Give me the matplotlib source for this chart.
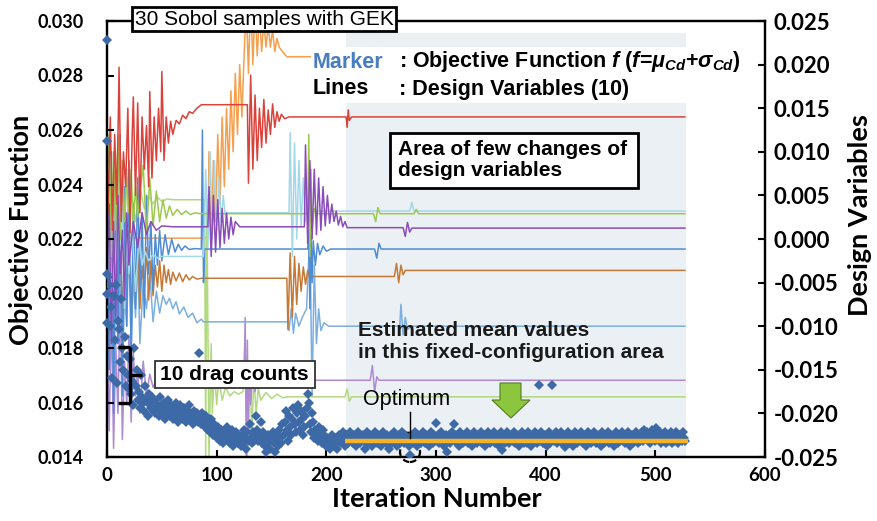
import numpy as np
import matplotlib.pyplot as plt
from matplotlib.patches import Rectangle, Polygon, Circle
from matplotlib.lines import Line2D

plt.rcParams["font.family"] = ["Lato", "DejaVu Sans"]
plt.rcParams["axes.unicode_minus"] = False
plt.rcParams["mathtext.fontset"] = "custom"
plt.rcParams["mathtext.rm"] = "Liberation Sans:bold"
plt.rcParams["mathtext.it"] = "Liberation Sans:italic:bold"
plt.rcParams["mathtext.bf"] = "Liberation Sans:bold"

# ---- objective function (drag counts, 1 count = 0.0001) ----
sobol_f = [293, 256, 207, 200, 189]
iter_f = [
    206, 203, 188, 195, 169, 199, 183, 203, 167, 190,
    187, 175, 198, 180, 172, 184, 166, 177, 170, 165,
    176, 163, 168, 159, 180, 166, 172, 161, 164, 158,
    170, 162, 160, 157, 166, 161, 155, 163, 159, 158,
    162, 157, 161, 156, 160, 158, 155, 162, 157, 159,
    156, 160, 154, 158, 157, 161, 155, 159, 156, 154,
    158, 155, 160, 156, 153, 157, 159, 155, 154, 158,
    156, 153, 157, 155, 159, 154, 156, 152, 157, 155,
    154, 156, 153, 178, 155, 152, 156, 154, 151, 155,
    153, 150, 152, 149, 154, 151, 148, 152, 150, 147,
    151, 149, 146, 150, 148, 145, 149, 147, 151, 146,
    148, 145, 147, 150, 144, 148, 146, 149, 145, 147,
    146, 144, 148, 145, 150, 147, 143, 149, 146, 152,
    147, 145, 149, 146, 148, 155, 150, 146, 148, 153,
    145, 149, 147, 144, 142, 146, 148, 145, 143, 147,
    149, 145, 142, 146, 148, 144, 150, 147, 145, 152,
    148, 153, 157, 150, 146, 155, 151, 148, 154, 158,
    152, 149, 156, 159, 153, 150, 157, 154, 148, 151,
    155, 158, 163, 160, 152, 149, 156, 153, 147, 150,
    148, 146, 151, 149, 147, 145, 150, 148, 146, 144,
    147, 145, 143, 146, 148, 144, 146, 145, 147, 143,
    146, 148, 145, 147, 149, 146, 144, 147, 148, 145, 146, 149, 147, 145, 148, 146, 144, 147, 149, 146,
    145, 147, 148, 146, 143, 147, 149, 145, 146, 148, 147, 144, 146, 149, 147, 145, 148, 146, 147, 144,
    147, 149, 146, 145, 148, 147, 143, 146, 148, 145, 147, 149, 146, 144, 147, 148, 145, 146, 149, 147,
    145, 148, 146, 147, 144, 140.8, 146, 148, 145, 147, 149, 146, 144, 148, 147, 145, 146, 149, 147, 145,
    148, 146, 147, 144, 149, 146, 145, 148, 147, 152.5, 146, 148, 145, 147, 149, 146, 144, 147, 148, 141.8,
    146, 148, 145, 147, 149, 152, 146, 148, 145, 147, 144, 149, 146, 147, 145, 148, 146, 149, 145, 147,
    146, 148, 144, 147, 149, 146, 145, 148, 147, 146, 149, 145, 147, 148, 144, 146, 149, 147, 145, 148,
    146, 147, 149, 145, 148, 146, 144, 147, 149, 142.5, 146, 148, 145, 147, 149, 146, 145, 148, 147, 146,
    149, 145, 147, 148, 146, 144, 147, 149, 146, 145, 148, 147, 145, 149, 146, 148, 144, 147, 146, 149,
    147, 145, 148, 166.4, 146, 149, 147, 145, 148, 146, 144, 147, 149, 145, 148, 166.4, 147, 146, 149, 145,
    148, 146, 147, 149, 145, 148, 146, 143.7, 147, 149, 146, 145, 148, 147, 144, 146, 149, 147, 145, 148,
    146, 149, 147, 145, 148, 146, 144, 147, 149, 146, 145, 148, 147, 149, 146, 145, 148, 146, 147, 144,
    149, 147, 145, 148, 146, 147, 149, 145, 146, 148, 147, 144, 146, 149, 147, 145, 148, 146, 147, 149,
    146, 145, 148, 147, 149, 146, 144, 147, 148, 145, 146, 149, 147, 145, 148, 146, 147, 149, 146, 150,
    147, 149, 148, 146, 145, 148, 150, 149, 147, 146, 150.6, 148, 147, 149, 145, 148, 146, 147, 149, 145,
    148, 146, 147, 149, 145, 148, 146, 147, 149, 146, 145, 148, 147, 146, 149, 147, 146,
]
mean_f = 146.0
mean_iters = [217, 530]

# ---- design variables (units of 1e-3) ----
red_x = [0, 1, 3, 5, 7, 9, 11, 13, 15, 17, 19, 21, 23, 24, 26, 28, 30, 32, 34, 36, 38, 39, 41, 43, 45, 47, 49, 50,
         52, 54, 56, 58, 60, 63, 66, 69, 72, 75, 78, 82, 86, 128, 129, 131, 133, 135, 137, 139, 141, 143, 145, 147,
         149, 151, 153, 155, 157, 159, 162, 166, 218, 219, 220, 221, 223, 527]
red_v = [9.4, 3, 14, 1, 12, 4, 19.7, 2, 10, 6, 15, 0.7, 12, 16.3, 5, 15.6, 3, 14, 8, 13, 6, 16.9, 7, 14, 9, 15, 10,
         19.2, 9, 14, 11, 13.5, 12, 13.6, 13.2, 14.2, 13.8, 14.6, 14.4, 15.0, 15.4, 15.4, 6.4, 18.8, 8, 16.5, 9, 15,
         10.5, 16, 11, 14.8, 12, 15.5, 12.8, 14.6, 13.5, 14.3, 13.8, 14.0, 14.0, 12.8, 14.8, 13.6, 14.0, 14.0]

orange_x = [0, 2, 4, 6, 8, 10, 12, 14, 16, 18, 20, 22, 92, 93, 95, 97, 99, 101, 103, 105, 107, 109, 111, 113, 115,
            117, 119, 121, 123, 125, 127, 129, 131, 133, 135, 137, 139, 141, 143, 145, 147, 149, 151, 153, 155, 157,
            160, 164, 527]
orange_v = [2, 8, -3, 5, -1, 4, 0, 3, -0.5, 1, 0.1, 0.1, 0.1, 10, -1, 9, 2, 12, 4, 14, 6, 15, 8, 17, 10, 19, 12, 20,
            14, 21, 27, 19, 28, 20, 27, 21, 26, 21.5, 25, 22, 24.5, 22, 24, 21.5, 23, 22, 21.5, 20.9, 20.9]

ygreen_x = [0, 2, 4, 6, 8, 10, 12, 14, 16, 18, 20, 22, 24, 26, 28, 30, 33, 36, 39, 42, 45, 48, 51, 54, 57, 60, 64,
            68, 72, 76, 80, 85, 183, 184, 185, 186, 187, 189, 191, 243, 245, 247, 249, 280, 282, 284, 527]
ygreen_v = [5, 12, -2, 10, 1, 11.9, -0.1, 9, 2, 7, 3, 8, 1.5, 6, 2.5, 5, 8.5, 0.5, 7, 1.5, 5.5, 2.0, 4.5, 2.4, 3.8,
            2.7, 3.4, 2.8, 3.2, 2.8, 3.0, 2.9, 2.9, 12, -2, 8, 1, 3.5, 2.9, 2.9, 2.0, 3.6, 2.9, 2.9, 3.4, 2.9, 2.9]

cyan_x = [0, 2, 4, 6, 8, 10, 12, 14, 16, 18, 20, 23, 26, 29, 32, 35, 38, 42, 46, 50, 55, 60, 88, 90, 92, 94, 96, 98,
          100, 102, 104, 106, 108, 110, 166, 167, 169, 171, 173, 175, 177, 179, 181, 183, 186, 276, 278, 280, 527]
cyan_v = [-5, 6, -10, 3, -6, 8, -3, 4, -8, 2, -4, 1, -6, 0, -3, -1.5, -2.5, -1.8, -2.2, -2, -2, -2, -2, 8, -1, 10, 0,
          9, 1, 7, 2, 5, 2.5, 3.0, 3.0, 12.2, -2, 11, 0, 9, 1.5, 7, 2, 5, 3.2, 3.2, 4.2, 3.2, 3.2]

purple_x = [0, 2, 4, 6, 8, 10, 12, 14, 16, 18, 20, 24, 28, 32, 36, 40, 45, 50, 60, 92, 93, 95, 97, 99, 101, 103,
            105, 107, 109, 111, 113, 115, 117, 121, 180, 181, 183, 185, 187, 189, 191, 193, 195, 197, 199, 201, 203,
            205, 207, 209, 211, 213, 215, 217, 219, 270, 272, 274, 276, 278, 527]
purple_v = [-6, 4, -12, 2, -9, 5, -4, 1, -7, 3, -3, 2, -1, 3, 0.5, 2, 1, 1.5, 1.4, 1.4, 6, -2, 5, -1.5, 4.5, -1,
            3.5, -0.5, 3, 0, 2.5, 0.5, 2, 1.4, 1.4, 10.8, -0.5, 9, 0, 8, 0.5, 7, 1, 6, 1.5, 5, 1.8, 4, 2, 3.2, 1.6,
            2.6, 1.4, 2.0, 1.3, 1.3, 0.3, 1.9, 0.8, 1.25, 1.25]

blue_x = [0, 2, 4, 6, 8, 10, 12, 14, 16, 18, 20, 22, 24, 26, 28, 30, 32, 34, 36, 38, 40, 42, 44, 46, 48, 50, 53, 56,
          59, 62, 65, 68, 71, 75, 80, 86, 87, 88, 89, 183, 184, 185, 186, 187, 188, 190, 192, 194, 197, 200, 204,
          244, 246, 248, 250, 527]
blue_v = [5, -15, 10, -20, 8, -12, 12, -18, 6, -10, 9, -14, 4, -8, 7, -6, 3, -9, 5, -4, 2, -6, 0.5, -3, 1, -2.5, 0.5,
          -1.8, 0, -1.5, -0.6, -1.3, -0.8, -1.2, -1.1, -1.15, 12.5, -5, -1.15, -1.15, 1, -8, 0.5, -5, -0.2, -3, -0.5,
          -1.8, -0.8, -1.4, -1.15, -1.15, -2.2, -0.5, -1.15, -1.15]

brown_x = [0, 2, 4, 6, 8, 10, 12, 14, 16, 18, 20, 22, 24, 26, 28, 30, 32, 34, 36, 38, 40, 42, 44, 46, 48, 50, 52,
           54, 56, 58, 60, 63, 66, 69, 72, 75, 78, 82, 86, 164, 165, 167, 169, 171, 173, 175, 177, 179, 181, 183,
           185, 187, 262, 264, 266, 268, 270, 272, 527]
brown_v = [-2, -9, 2, -11, 0, -8, 3, -10, -1, -7, 1, -9, -2, -6, 0, -8, -3, -6, -1, -7, -2.5, -6.5, -3, -5.5, -2.5,
           -6, -3, -5, -3.5, -5.2, -3.8, -4.8, -3.9, -4.9, -4.1, -4.7, -4.3, -4.6, -4.5, -4.5, -10.4, -1.6, -9, -2,
           -7.5, -2.8, -6, -3.2, -5.2, -3.6, -4.6, -4.3, -4.3, -2.8, -5, -3.0, -4.1, -3.6, -3.6]

lblue_x = [0, 2, 4, 6, 8, 10, 12, 14, 16, 18, 20, 22, 24, 26, 28, 30, 33, 36, 39, 42, 45, 48, 51, 54, 57, 60, 63,
           66, 70, 74, 78, 82, 86, 88, 165, 166, 168, 170, 172, 175, 178, 182, 185, 187, 189, 191, 193, 195, 198,
           202, 267, 268, 270, 272, 274, 277, 527]
lblue_v = [-3, -14, 2, -18, -5, -12, 0, -16, -6, -10, 1, -13, -4, -9, -2, -12, -5, -8, -4, -9.5, -6, -8.5, -6.5,
           -7.5, -6.8, -8, -7.2, -8.6, -7.8, -9.0, -8.5, -9.6, -9.2, -9.5, -9.5, -10.5, -8, -10.8, -8.5, -10, -9,
           -8, 1, -18, -3, -12, -8, -10.5, -9.6, -10.0, -10.0, -7.5, -11, -9, -10.4, -10.0, -10.0]

lpurple_x = [0, 2, 4, 6, 8, 10, 12, 14, 16, 18, 20, 22, 24, 26, 28, 30, 33, 36, 39, 42, 46, 50, 125, 126, 127, 128,
             129, 130, 131, 133, 135, 137, 140, 240, 242, 244, 246, 248, 527]
lpurple_v = [-10, -22, -8, -24, -12, -20, -6, -23, -14, -19, -11, -21, -13, -18, -15, -20, -14, -18, -15.5, -17,
             -16, -16.2, -16.2, -9, -25, -11.6, -22, -14, -19, -15, -17.5, -16, -16.2, -16.2, -14.5, -17.5, -15.8,
             -16.2, -16.2]

lgreen_x = [0, 2, 4, 6, 8, 10, 12, 14, 16, 18, 20, 23, 26, 30, 34, 38, 42, 46, 50, 55, 60, 70, 80, 89, 90, 91, 93,
            95, 96, 98, 100, 102, 105, 108, 112, 116, 120, 124, 126, 128, 130, 132, 134, 136, 138, 140, 145, 150,
            155, 160, 165, 217, 219, 221, 223, 527]
lgreen_v = [0, 9, -5, 7, -3, 11, -1, 6, 1, 8, 3, 5, 2, 6, 3.5, 5, 4, 4.8, 4.3, 4.6, 4.5, 4.5, 4.5, 4.5, -25, 5, -25,
            -12, -20, -15, -19, -16, -18.5, -17, -18, -17.5, -17.8, -17.5, -11, -25, -14, -22, -16, -20, -17, -18.5,
            -17.6, -18.3, -17.8, -18.2, -18.1, -18.1, -17.2, -18.6, -18.1, -18.1]

design_lines = [
    (orange_x, orange_v, "#f4a04e"),
    (lgreen_x, lgreen_v, "#b2d97f"),
    (lpurple_x, lpurple_v, "#ae8ad0"),
    (lblue_x, lblue_v, "#7cafe0"),
    (brown_x, brown_v, "#c47a36"),
    (blue_x, blue_v, "#4f8cd4"),
    (cyan_x, cyan_v, "#a3d8ea"),
    (ygreen_x, ygreen_v, "#9dc94f"),
    (purple_x, purple_v, "#8a4cb6"),
    (red_x, red_v, "#d9433b"),
]

W, H = 877, 521
fig = plt.figure(figsize=(W / 100, H / 100), dpi=100)
ax = fig.add_axes([107 / W, 1 - 457 / H, 658 / W, 436 / H])
ax2 = ax.twinx()
T = fig.dpi_scale_trans


def P(x, y):
    # pixel position (from top-left) -> inches for dpi_scale_trans
    return (x / 100, (H - y) / 100)


# shaded "fixed configuration" area
ax2.axvspan(218, 528, ymin=0, ymax=(457 - 33) / 436, color="#ebf0f5", zorder=0, lw=0)

for xs, vs, c in design_lines:
    ax2.plot(xs, np.array(vs) / 1000, color=c, lw=1.1, zorder=2)

ax2.set_ylim(-0.025, 0.025)
rt = np.arange(-0.025, 0.0251, 0.005)
ax2.set_yticks(rt)
ax2.set_yticklabels([f"{v:.3f}" for v in rt], fontweight="bold", fontsize=16)
ax2.tick_params(axis="y", direction="in", length=5, width=1.5, pad=6)
ax2.set_ylabel("Design Variables", fontsize=19.5, fontweight="bold", va="center")
ax2.yaxis.set_label_coords((860 - 107) / 658, (457 - 215) / 436)

# objective function markers
ax.set_zorder(ax2.get_zorder() + 1)
ax.patch.set_visible(False)
ax.plot(np.zeros(len(sobol_f)), np.array(sobol_f) / 1e4, "D", ms=5.5, color="#3d6aa6", mew=0, zorder=3,
        clip_on=False)
iters = np.arange(1, len(iter_f) + 1)
ax.plot(iters, np.array(iter_f) / 1e4, "D", ms=5.5, color="#3d6aa6", mew=0, zorder=3)
ax.plot(mean_iters, [mean_f / 1e4] * 2, color="#f4b224", lw=3.2, zorder=4, solid_capstyle="butt")

ax.set_xlim(0, 600)
ax.set_ylim(0.014, 0.030)
lt = np.arange(0.014, 0.0301, 0.002)
ax.set_yticks(lt)
ax.set_yticklabels([f"{v:.3f}" for v in lt], fontweight="bold", fontsize=13)
ax.set_xticks(range(0, 601, 100))
ax.set_xticklabels([str(v) for v in range(0, 601, 100)], fontweight="bold", fontsize=13.5)
ax.tick_params(axis="y", direction="in", length=5, width=1.5, pad=17)
ax.tick_params(axis="x", direction="in", length=5, width=1.5, pad=7)
ax.set_xlabel("Iteration Number", fontsize=19.5, fontweight="bold", va="center")
ax.xaxis.set_label_coords((437 - 107) / 658, (457 - 499) / 436)
ax.set_ylabel("Objective Function", fontsize=19.5, fontweight="bold", va="center")
ax.yaxis.set_label_coords((21 - 107) / 658, (457 - 230) / 436)
for a in (ax, ax2):
    for s in a.spines.values():
        s.set_linewidth(1.6)

# ---- annotations ----
ann = dict(family=["Liberation Sans", "DejaVu Sans"], transform=T)

fig.text(*P(264, 19), "30 Sobol samples with GEK", fontsize=15, ha="center", va="center",
         bbox=dict(boxstyle="square,pad=0.12", fc="white", ec="black", lw=2), **ann)

fig.add_artist(Rectangle(P(311, 103), 426 / 100, 56 / 100, transform=T, fc="white", ec="none", zorder=2.5))
fig.text(*P(313, 62), "Marker", fontsize=15.5, fontweight="bold", color="#4a7cc0", va="center", **ann)
fig.text(*P(313, 89), "Lines", fontsize=15.5, fontweight="bold", color="black", va="center", **ann)
fig.text(*P(399, 62), r": Objective Function $f$ ($f$=$\mu_{Cd}$+$\sigma_{Cd}$)", fontsize=15.5,
         fontweight="bold", va="center", **ann)
fig.text(*P(399, 89), ": Design Variables (10)", fontsize=15.5, fontweight="bold", va="center", **ann)

fig.add_artist(Rectangle(P(390, 188), 248 / 100, 55 / 100, transform=T, fc="white", ec="black", lw=2,
                         zorder=2.5))
fig.text(*P(398, 160), "Area of few changes of\ndesign variables", fontsize=15, fontweight="bold",
         va="center", linespacing=1.15, **ann)

fig.add_artist(Rectangle(P(155, 388), 160 / 100, 27 / 100, transform=T, fc="white", ec="#333333", lw=1.3,
                         zorder=2.5))
fig.text(*P(234, 375), "10 drag counts", fontsize=15, fontweight="bold", ha="center", va="center", **ann)

# brace for 10 drag counts
for seg in [((118, 347), (130, 347)), ((130, 347), (130, 403)), ((118, 403), (130, 403)),
            ((130, 375), (142, 375))]:
    (x0, y0), (x1, y1) = seg
    fig.add_artist(Line2D([x0 / 100, x1 / 100], [(H - y0) / 100, (H - y1) / 100], transform=T,
                          color="black", lw=2.4, solid_capstyle="butt"))

fig.text(*P(358, 342), "Estimated mean values\nin this fixed-configuration area", fontsize=15,
         fontweight="bold", color="#1a1a1a", va="center", linespacing=1.2, **ann)

arrow_px = [(500, 383), (521, 383), (521, 400), (530, 400), (511, 418), (492, 400), (500, 400)]
fig.add_artist(Polygon([P(x, y) for x, y in arrow_px], closed=True, transform=T, fc="#8cc63f",
                       ec="#557a22", lw=0.8))

fig.text(*P(407, 400), "Optimum", fontsize=15.5, ha="center", va="center", **ann)
fig.add_artist(Line2D([4.10, 4.10], [(H - 412) / 100, (H - 438) / 100], transform=T, color="black", lw=1))
fig.add_artist(Polygon([P(406, 432), P(414, 432), P(410, 441)], closed=True, transform=T, fc="black",
                       ec="black", lw=0.5))
fig.add_artist(Circle(P(410, 452), 0.10, transform=T, fill=False, ec="black", lw=1.6, ls=(0, (3, 2))))

fig.savefig("out.png", dpi=100)
